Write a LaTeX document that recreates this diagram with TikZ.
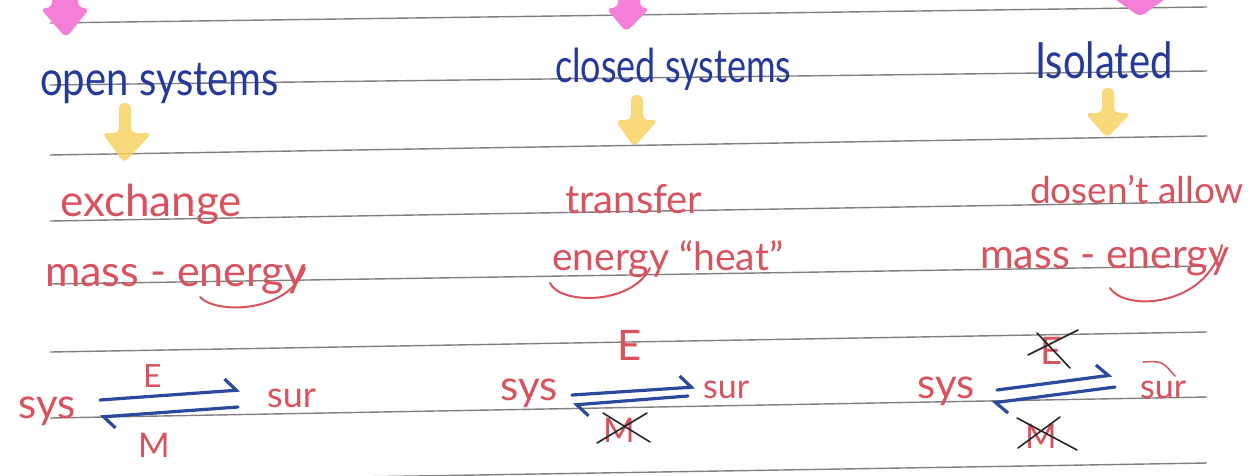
\documentclass[tikz,border=0pt]{standalone}
\usepackage{graphicx}
\usepackage{fontspec}
\setmainfont{Lato}
\usetikzlibrary{arrows.meta}
\definecolor{ink}{HTML}{25399A}
\definecolor{pen}{HTML}{D9535E}
\definecolor{hl}{HTML}{F7D366}
\definecolor{pk}{HTML}{F47FD8}
\definecolor{ruled}{HTML}{808080}
\definecolor{arr}{HTML}{2B4A9E}
\tikzset{
  title/.style={text=ink, inner sep=0, anchor=base west},
  note/.style={text=pen, inner sep=0, anchor=base west},
  ruleline/.style={ruled, line width=1.4},
  harp/.style={arr, line width=3.2, line cap=round, -{Straight Barb[harpoon, length=11, width=24, line width=3.2]}},
  xmark/.style={black!85, line width=1.6, line cap=round},
  swoop/.style={pen, line width=2, line cap=round},
  pinkarrow/.style={fill=pk, rounded corners=6},
  yelarrow/.style={fill=hl, fill opacity=0.85, rounded corners=5}
}
\newcommand{\fs}[1]{\fontsize{#1}{#1}\selectfont}
\newcommand{\tall}[2]{\scalebox{1}[#1]{#2}}
\begin{document}
\begin{tikzpicture}[x=1pt,y=-1pt]
\useasboundingbox (0,0) rectangle (1257,475);
\fill[white] (0,0) rectangle (1257,475);
\begin{scope}
\clip (0,0) rectangle (1257,475);
% ruled lines
\draw[ruleline] (50,23) -- (1207,7);
\draw[ruleline] (50,85) -- (1207,71);
\draw[ruleline] (50,155) -- (1207,136);
\draw[ruleline] (50,221) -- (1207,202);
\draw[ruleline] (50,284) -- (1207,266);
\draw[ruleline] (50,352) -- (1207,332);
\draw[ruleline] (50,418) -- (1207,397);
\draw[ruleline] (50,482) -- (1207,463);
% pink arrows at top
\fill[pinkarrow] (52,-10) -- (78,-10) -- (78,8) -- (90,8) -- (66,38) -- (40,8) -- (52,8) -- cycle;
\fill[pinkarrow] (618,-10) -- (640,-10) -- (640,8) -- (650,8) -- (626,32) -- (606,8) -- (618,8) -- cycle;
\fill[pinkarrow] (1128,-20) -- (1150,-20) -- (1150,-3) -- (1168,-3) -- (1140,17) -- (1112,-3) -- (1128,-3) -- cycle;
\end{scope}
% yellow arrows
\fill[yelarrow] (119,103) -- (131,103) -- (131,133) -- (152,133) -- (124,163) -- (102,133) -- (119,133) -- cycle;
\fill[yelarrow] (631,95) -- (643,95) -- (643,120) -- (658,120) -- (634,147) -- (615,120) -- (631,120) -- cycle;
\fill[yelarrow] (1102,88) -- (1114,88) -- (1114,113) -- (1131,113) -- (1107,138) -- (1085,113) -- (1102,113) -- cycle;
% titles
\node[title, font=\fs{40}] (open) at (40,95) {\tall{1.2}{open systems}};
\node[title, font=\fs{36}] (closed) at (555,82) {\tall{1.3}{closed systems}};
\node[title, font=\fs{40}] (iso) at (1035,78) {\tall{1.25}{Isolated}};
% descriptions
\node[note, font=\fs{44}] (exch) at (60,216) {exchange};
\node[note, font=\fs{43}] (mass1) at (45,286) {mass - energy};
\node[note, font=\fs{40}] (trans) at (565,213) {transfer};
\node[note, font=\fs{39}] (energy2) at (552,270) {energy “heat”};
\node[note, font=\fs{37}] (dosent) at (1030,203) {dosen't allow};
\node[note, font=\fs{41}] (mass3) at (980,268) {mass - energy};
\draw[swoop] (200,297) .. controls (215,314) and (288,314) .. (305,268);
\draw[swoop] (550,283) .. controls (560,305) and (632,305) .. (650,268);
\draw[swoop] (1110,288) .. controls (1125,312) and (1207,307) .. (1222,245);
% column 1 exchange
\node[note, font=\fs{42}] (sys1) at (18,418) {sys};
\node[note, font=\fs{32}] (E1) at (143,387) {E};
\node[note, font=\fs{36}] (sur1) at (267,407) {sur};
\node[note, font=\fs{34}] (M1) at (138,457) {M};
\coordinate (a1s) at (100,400);
\coordinate (a1e) at (240,390);
\coordinate (b1s) at (238,407);
\coordinate (b1e) at (100,417);
\draw[harp] (a1s) -- (a1e);
\draw[harp] (b1s) -- (b1e);
% column 2
\node[note, font=\fs{42}] (sys2) at (500,400) {sys};
\node[note, font=\fs{42}] (E2) at (617,360) {E};
\node[note, font=\fs{34}] (sur2) at (703,398) {sur};
\node[note, font=\fs{34}] (M2) at (603,442) {M};
\coordinate (a2s) at (572,395);
\coordinate (a2e) at (695,387);
\coordinate (b2s) at (688,396);
\coordinate (b2e) at (573,405);
\draw[harp] (a2s) -- (a2e);
\draw[harp] (b2s) -- (b2e);
\draw[xmark] (597,443) -- (647,413);
\draw[xmark] (603,413) -- (650,442);
% column 3
\node[note, font=\fs{42}] (sys3) at (917,398) {sys};
\node[note, font=\fs{38}] (E3) at (1040,364) {E};
\node[note, font=\fs{34}] (sur3) at (1140,398) {sur};
\node[note, font=\fs{34}] (M3) at (1025,448) {M};
\draw[swoop, line width=1.5] (1143,362) .. controls (1162,361) .. (1175,376);
\coordinate (a3s) at (997,390);
\coordinate (a3e) at (1112,375);
\coordinate (b3s) at (1115,387);
\coordinate (b3e) at (992,403);
\draw[harp] (a3s) -- (a3e);
\draw[harp] (b3s) -- (b3e);
\draw[xmark] (1028,355) -- (1078,330);
\draw[xmark] (1037,333) -- (1070,368);
\draw[xmark] (1018,448) -- (1060,417);
\draw[xmark] (1017,418) -- (1077,450);
\end{tikzpicture}
\end{document}
